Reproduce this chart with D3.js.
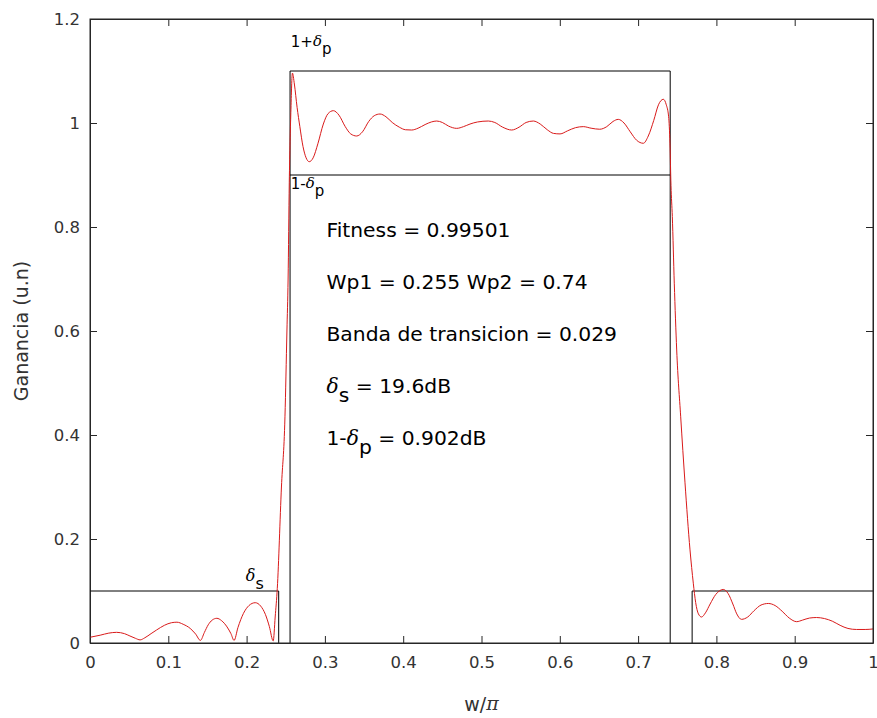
<!DOCTYPE html>
<html>
<head>
<meta charset="utf-8">
<script src="https://cdn.jsdelivr.net/npm/d3@7"></script>
<style>
  html, body { margin: 0; padding: 0; background: #ffffff; }
  svg { display: block; }
  text { font-family: "DejaVu Sans", "Liberation Sans", Arial, sans-serif; }
</style>
</head>
<body>
<svg id="chart" width="877" height="718"></svg>
<script>
// ---------------- data ----------------
const freq = [
  0.000, 0.013, 0.024, 0.034, 0.044, 0.051, 0.058, 0.064, 0.070, 0.078,
  0.085, 0.095, 0.104, 0.111, 0.119, 0.128, 0.135, 0.141, 0.146, 0.151,
  0.156, 0.162, 0.168, 0.175, 0.180, 0.184, 0.189, 0.196, 0.203, 0.211,
  0.218, 0.224, 0.229, 0.234, 0.2365, 0.2392, 0.2445, 0.249, 0.2515, 0.253,
  0.2545, 0.2565, 0.2585, 0.261, 0.2645, 0.268, 0.272, 0.276, 0.280, 0.285,
  0.291, 0.298, 0.304, 0.3108, 0.318, 0.326, 0.333, 0.3406, 0.348, 0.356,
  0.363, 0.3704, 0.378, 0.386, 0.395, 0.403, 0.4108, 0.419, 0.428, 0.436,
  0.4428, 0.450, 0.458, 0.4683, 0.477, 0.4853, 0.495, 0.5087, 0.517, 0.527,
  0.5385, 0.548, 0.557, 0.5662, 0.575, 0.584, 0.592, 0.6003, 0.610, 0.620,
  0.630, 0.640, 0.651, 0.660, 0.668, 0.6747, 0.682, 0.690, 0.698, 0.7067,
  0.713, 0.720, 0.726, 0.7322, 0.736, 0.739, 0.7407, 0.742, 0.7437, 0.7462,
  0.7493, 0.7544, 0.7599, 0.7663, 0.7705, 0.7735, 0.777, 0.781, 0.786, 0.792,
  0.799, 0.8088, 0.815, 0.821, 0.826, 0.832, 0.840, 0.848, 0.857, 0.8663,
  0.875, 0.884, 0.893, 0.9025, 0.910, 0.919, 0.928, 0.938, 0.948, 0.958,
  0.968, 0.979, 0.990, 1.000
];
const gain = [
  0.011, 0.015, 0.019, 0.0205, 0.018, 0.0135, 0.009, 0.006, 0.010, 0.018,
  0.025, 0.034, 0.039, 0.040, 0.036, 0.028, 0.017, 0.005, 0.020, 0.035,
  0.044, 0.0475, 0.043, 0.031, 0.018, 0.005, 0.030, 0.057, 0.072, 0.0775,
  0.071, 0.055, 0.032, 0.004, 0.050, 0.105, 0.30, 0.435, 0.60, 0.70,
  0.885, 1.02, 1.096, 1.075, 1.03, 0.993, 0.955, 0.933, 0.9256, 0.933,
  0.960, 0.998, 1.018, 1.0237, 1.015, 0.993, 0.979, 0.975, 0.983, 1.003,
  1.014, 1.0173, 1.012, 1.001, 0.992, 0.987, 0.9865, 0.990, 0.997, 1.002,
  1.0038, 1.001, 0.994, 0.9897, 0.993, 0.998, 1.002, 1.0038, 1.001, 0.992,
  0.9865, 0.992, 1.001, 1.0038, 0.998, 0.987, 0.980, 0.979, 0.985, 0.991,
  0.993, 0.990, 0.988, 0.993, 1.003, 1.007, 1.000, 0.983, 0.967, 0.961,
  0.975, 1.005, 1.035, 1.0456, 1.035, 1.012, 0.960, 0.880, 0.820, 0.692,
  0.5635, 0.435, 0.308, 0.179, 0.115, 0.078, 0.056, 0.050, 0.058, 0.075,
  0.093, 0.103, 0.095, 0.075, 0.056, 0.0455, 0.050, 0.062, 0.073, 0.076,
  0.072, 0.061, 0.048, 0.041, 0.044, 0.048, 0.049, 0.047, 0.042, 0.034,
  0.028, 0.026, 0.026, 0.027
];

// template (specification mask) edges
const stopEdge1 = 0.241, passEdge1 = 0.2555, passEdge2 = 0.741, stopEdge2 = 0.769;
const deltaS = 0.1, passLow = 0.9, passHigh = 1.1;

const xTicks = [0, 0.1, 0.2, 0.3, 0.4, 0.5, 0.6, 0.7, 0.8, 0.9, 1];
const yTicks = [0, 0.2, 0.4, 0.6, 0.8, 1, 1.2];

const infoLines = [
  { y: 0.8, parts: [["Fitness = 0.99501", ""]] },
  { y: 0.7, parts: [["Wp1 = 0.255 Wp2 = 0.74", ""]] },
  { y: 0.6, parts: [["Banda de transicion = 0.029", ""]] },
  { y: 0.5, parts: [["δ", "greek"], ["s", "sub"], [" = 19.6dB", ""]] },
  { y: 0.4, parts: [["1-", ""], ["δ", "greek"], ["p", "sub"], [" = 0.902dB", ""]] }
];

// ---------------- layout ----------------
const svg = d3.select("#chart");
const mLeft = 90, mRight = 873, mTop = 19, mBottom = 643;
const x = d3.scaleLinear().domain([0, 1]).range([mLeft, mRight]);
const y = d3.scaleLinear().domain([0, 1.2]).range([mBottom, mTop]);
const axisColor = "#262626";
const tickLen = 7;
const FONT = '"DejaVu Sans", "Liberation Sans", Arial, sans-serif';

svg.append("rect").attr("x", mLeft).attr("y", mTop)
  .attr("width", mRight - mLeft).attr("height", mBottom - mTop).attr("fill", "#fff");

// axes (inward ticks, mirrored)
const fmt = d => (d === 0 || d === 1) ? String(d) : d3.format(".1f")(d);
const xAxisB = d3.axisBottom(x).tickValues(xTicks).tickFormat(fmt).tickSizeInner(-tickLen).tickSizeOuter(0).tickPadding(13);
const xAxisT = d3.axisTop(x).tickValues(xTicks).tickFormat("").tickSizeInner(-tickLen).tickSizeOuter(0);
const yAxisL = d3.axisLeft(y).tickValues(yTicks).tickFormat(fmt).tickSizeInner(-tickLen).tickSizeOuter(0).tickPadding(10);
const yAxisR = d3.axisRight(y).tickValues(yTicks).tickFormat("").tickSizeInner(-tickLen).tickSizeOuter(0);

function styleAxis(g) {
  g.selectAll("path").attr("stroke", axisColor).attr("stroke-width", 1);
  g.selectAll("line").attr("stroke", axisColor).attr("stroke-width", 1);
  g.selectAll("text").attr("fill", "#333").attr("font-size", 16.5).attr("font-family", FONT);
}
svg.append("g").attr("transform", `translate(0,${mBottom})`).call(xAxisB).call(styleAxis);
svg.append("g").attr("transform", `translate(0,${mTop})`).call(xAxisT).call(styleAxis);
svg.append("g").attr("transform", `translate(${mLeft},0)`).call(yAxisL).call(styleAxis);
svg.append("g").attr("transform", `translate(${mRight},0)`).call(yAxisR).call(styleAxis);

// template lines (black)
const mask = [
  [[0, deltaS], [stopEdge1, deltaS], [stopEdge1, 0]],
  [[passEdge1, 0], [passEdge1, passHigh], [passEdge2, passHigh], [passEdge2, 0]],
  [[passEdge1, passLow], [passEdge2, passLow]],
  [[stopEdge2, 0], [stopEdge2, deltaS], [1, deltaS]]
];
const lineGen = d3.line().x(d => x(d[0])).y(d => y(d[1]));
svg.append("g").selectAll("path").data(mask).join("path")
  .attr("d", lineGen).attr("fill", "none").attr("stroke", "#000").attr("stroke-width", 1);

// response curve (red)
const pts = freq.map((f, i) => [f, gain[i]]);
svg.append("path").datum(pts)
  .attr("d", d3.line().x(d => x(d[0])).y(d => y(d[1])).curve(d3.curveMonotoneX))
  .attr("fill", "none").attr("stroke", "#d91a1a").attr("stroke-width", 1);

// frame
svg.append("rect").attr("x", mLeft).attr("y", mTop)
  .attr("width", mRight - mLeft).attr("height", mBottom - mTop)
  .attr("fill", "none").attr("stroke", axisColor).attr("stroke-width", 1);

// helper for rich text with delta and subscripts
function richText(parent, px, py, parts, size) {
  const t = parent.append("text").attr("x", px).attr("y", py)
    .attr("font-size", size).attr("fill", "#000").attr("dominant-baseline", "middle")
    .attr("font-family", FONT);
  let shifted = false;
  parts.forEach(([str, kind]) => {
    const ts = t.append("tspan").text(str);
    if (kind === "greek") {
      ts.attr("font-style", "italic").attr("font-family", '"DejaVu Serif", "Liberation Serif", serif');
      if (shifted) { ts.attr("dy", -size * 0.45); shifted = false; }
    } else if (kind === "sub") {
      ts.attr("dy", size * 0.45); shifted = true;
    } else {
      if (shifted) { ts.attr("dy", -size * 0.45); shifted = false; }
    }
  });
  return t;
}

// annotation labels
richText(svg, x(0.2565), y(1.155), [["1+", ""], ["δ", "greek"], ["p", "sub"]], 15);
richText(svg, x(0.2565), y(0.882), [["1-", ""], ["δ", "greek"], ["p", "sub"]], 15);
richText(svg, x(0.199), y(0.128), [["δ", "greek"], ["s", "sub"]], 16);

infoLines.forEach(l => richText(svg, x(0.302), y(l.y) + 4, l.parts, 20.3));

// axis labels
svg.append("text").attr("transform", `translate(22,${(mTop + mBottom) / 2}) rotate(-90)`)
  .attr("text-anchor", "middle").attr("dominant-baseline", "middle")
  .attr("font-size", 19).attr("font-family", FONT).attr("fill", "#333").text("Ganancia (u.n)");
const xl = svg.append("text").attr("x", (mLeft + mRight) / 2).attr("y", 705)
  .attr("text-anchor", "middle").attr("dominant-baseline", "middle")
  .attr("font-size", 19).attr("font-family", FONT).attr("fill", "#333");
xl.append("tspan").text("w/");
xl.append("tspan").attr("font-style", "italic").attr("font-family", '"DejaVu Serif", serif').text("π");
</script>
</body>
</html>
